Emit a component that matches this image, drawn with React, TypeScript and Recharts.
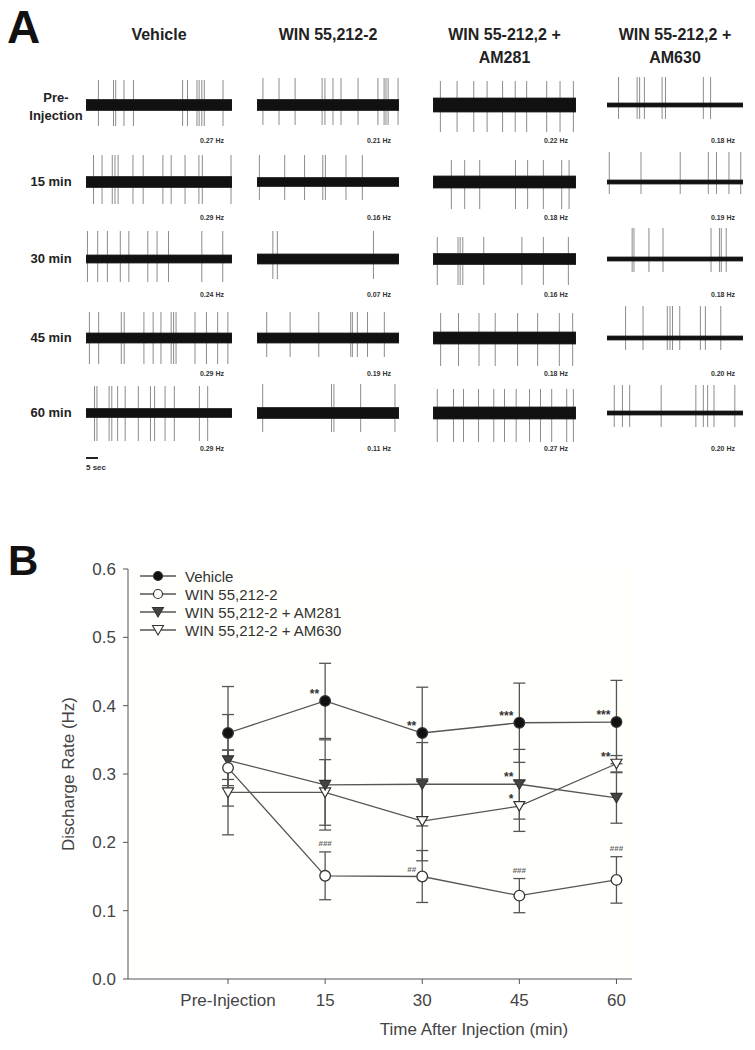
import React from 'react';
import {
  ScatterChart,
  Scatter,
  XAxis,
  YAxis,
  ErrorBar,
  ReferenceArea,
  LineChart,
  Line,
  CartesianGrid,
  Legend,
  ReferenceDot,
  Label,
} from 'recharts';

const FONT = '"Liberation Sans", Arial, Helvetica, sans-serif';

// ---------- Panel A: single-unit recordings ----------
const conditions = [['Vehicle'], ['WIN 55,212-2'], ['WIN 55-212,2 +', 'AM281'], ['WIN 55-212,2 +', 'AM630']];
const timepoints = [['Pre-', 'Injection'], ['15 min'], ['30 min'], ['45 min'], ['60 min']];

// spike times (s) within each 60 s sweep, one list per time point
const vehicleSpikes = [
  [5.1, 11.3, 12.2, 15.6, 19.5, 39.7, 41.7, 45.6, 46.5, 47.6, 48.6, 56.3],
  [3.1, 6.6, 10.8, 11.9, 13.2, 19.3, 23.5, 31.6, 35.0, 40.7, 46.4, 47.8, 59.6],
  [0.6, 4.8, 8.8, 14.1, 17.6, 25.4, 29.2, 33.9, 47.6, 56.2],
  [1.4, 5.2, 14.5, 15.7, 23.8, 27.6, 30.8, 35.0, 36.0, 37.0, 44.8, 49.5, 54.1, 58.3],
  [3.5, 4.5, 9.5, 10.6, 13.0, 16.1, 21.5, 26.5, 28.2, 32.5, 36.3, 46.6, 50.0],
];
const winSpikes = [
  [2.5, 9.3, 16.1, 27.5, 28.7, 32.1, 35.5, 42.7, 51.1, 53.7, 54.5, 55.4, 59.6],
  [1.0, 11.7, 20.1, 27.8, 28.9, 37.6, 44.5],
  [6.7, 8.6, 49.2],
  [4.1, 14.0, 26.1, 39.6, 40.3, 42.4, 46.7, 53.8],
  [2.4, 31.5, 32.5, 43.8, 58.3],
];
const am281Spikes = [
  [3.1, 10.1, 17.1, 22.7, 29.2, 34.5, 39.3, 47.7, 53.3, 58.9],
  [7.7, 13.3, 19.6, 34.6, 39.7, 46.3, 54.0, 57.1],
  [1.8, 10.5, 11.4, 12.5, 21.3, 37.3, 46.3, 56.8],
  [3.2, 10.7, 19.3, 26.1, 35.5, 43.9, 53.0, 58.6],
  [1.8, 8.6, 12.8, 19.1, 25.5, 30.0, 34.9, 40.5, 45.1, 49.8, 56.1, 58.9],
];
const am630Spikes = [
  [5.1, 13.3, 14.4, 16.5, 24.3, 25.8, 42.5, 45.7],
  [1.0, 15.0, 32.3, 44.7, 48.3, 53.8, 59.0],
  [11.1, 11.9, 18.5, 24.7, 45.9, 49.6, 50.4, 52.6],
  [8.2, 15.9, 26.6, 27.8, 28.9, 32.1, 41.2, 43.4, 50.2],
  [3.2, 6.8, 10.0, 23.9, 39.2, 42.5, 44.4, 47.2, 56.4],
];

// spike amplitude [down, up] and baseline noise (peak-to-peak), arbitrary units
const vehicleAmp = [[21, 25], [22, 27], [23, 28], [26, 26], [28, 27]];
const winAmp = [[20, 27], [18, 27], [20, 28], [19, 26], [19, 29]];
const am281Amp = [[27, 24], [27, 22], [26, 22], [28, 25], [29, 24]];
const am630Amp = [[14, 28], [12, 30], [13, 31], [12, 32], [14, 28]];

const vehicleNoise = [11, 11, 8, 10, 9];
const winNoise = [11, 9, 10, 10, 11];
const am281Noise = [14, 12, 11, 12, 12];
const am630Noise = [4, 4, 4, 4, 4];

const vehicleHz = ['0.27', '0.29', '0.24', '0.29', '0.29'];
const winHz = ['0.21', '0.16', '0.07', '0.19', '0.11'];
const am281Hz = ['0.22', '0.18', '0.16', '0.18', '0.27'];
const am630Hz = ['0.18', '0.19', '0.18', '0.20', '0.20'];

const spikeSets = [vehicleSpikes, winSpikes, am281Spikes, am630Spikes];
const ampSets = [vehicleAmp, winAmp, am281Amp, am630Amp];
const noiseSets = [vehicleNoise, winNoise, am281Noise, am630Noise];
const hzSets = [vehicleHz, winHz, am281Hz, am630Hz];

// ---------- Panel B: discharge rate ----------
const timeLabels = ['Pre-Injection', '15', '30', '45', '60'];
const seriesNames = ['Vehicle', 'WIN 55,212-2', 'WIN 55,212-2 + AM281', 'WIN 55,212-2 + AM630'];

const vehicleMean = [0.36, 0.407, 0.36, 0.375, 0.376];
const vehicleSem = [0.068, 0.055, 0.067, 0.058, 0.061];
const winMean = [0.309, 0.151, 0.15, 0.122, 0.145];
const winSem = [0.026, 0.035, 0.038, 0.025, 0.034];
const am281Mean = [0.32, 0.284, 0.285, 0.285, 0.265];
const am281Sem = [0.067, 0.066, 0.061, 0.051, 0.037];
const am630Mean = [0.273, 0.273, 0.231, 0.253, 0.315];
const am630Sem = [0.062, 0.048, 0.058, 0.037, 0.012];

// significance marks (* vs pre-injection, # vs vehicle)
const vehicleSig = ['', '**', '**', '***', '***'];
const winSig = ['', '###', '##', '###', '###'];
const am281Sig = ['', '', '', '**', ''];
const am630Sig = ['', '', '', '*', '**'];

const yTicks = [0, 0.1, 0.2, 0.3, 0.4, 0.5, 0.6];

// layout
const COL_X = [86, 257, 433, 607];
const COL_W = [146, 142, 143, 136];
const ROW_Y = [105, 182, 259, 338, 413];
const TRACE_H = 72;
const SWEEP = 60;

function Trace({ spikes, amp, noise, width }: any) {
  const data = spikes.map((t: number) => ({ t, v: 0, err: amp }));
  const half = TRACE_H / 2;
  return (
    <ScatterChart width={width} height={TRACE_H} margin={{ top: 0, right: 0, bottom: 0, left: 0 }}>
      <XAxis type="number" dataKey="t" domain={[0, SWEEP]} hide />
      <YAxis type="number" dataKey="v" domain={[-half, half]} hide />
      <Scatter data={data} isAnimationActive={false} shape={() => <g />}>
        <ErrorBar dataKey="err" direction="y" width={0} stroke="#8c8c8c" strokeWidth={1} />
      </Scatter>
      <ReferenceArea y1={-noise / 2} y2={noise / 2} fill="#111" fillOpacity={1} stroke="#222" strokeWidth={0.8} zIndex={1000} />
    </ScatterChart>
  );
}

function PanelA() {
  return (
    <div style={{ position: 'absolute', left: 0, top: 0, width: 755, height: 500, fontFamily: FONT }}>
      <div style={{ position: 'absolute', left: 7, top: 2, fontSize: 46, fontWeight: 'bold', color: '#111', lineHeight: '50px' }}>A</div>
      {conditions.map((lines, c) => (
        <div
          key={c}
          style={{
            position: 'absolute',
            left: COL_X[c] + COL_W[c] / 2 - 90,
            width: 180,
            top: 23,
            textAlign: 'center',
            fontSize: 16,
            fontWeight: 'bold',
            color: '#222',
            lineHeight: '23px',
          }}
        >
          {lines.map((l, i) => (
            <div key={i}>{l}</div>
          ))}
        </div>
      ))}
      {timepoints.map((lines, r) => (
        <div
          key={r}
          style={{
            position: 'absolute',
            left: (lines.length > 1 ? 56 : 51) - 40,
            width: 80,
            top: ROW_Y[r] - (lines.length * 18) / 2 + (lines.length > 1 ? 2 : 0),
            textAlign: 'center',
            fontSize: 13,
            fontWeight: 'bold',
            color: '#222',
            lineHeight: '18px',
          }}
        >
          {lines.map((l, i) => (
            <div key={i}>{l}</div>
          ))}
        </div>
      ))}
      {spikeSets.map((rows, c) =>
        rows.map((spikes, r) => (
          <React.Fragment key={`${c}-${r}`}>
            <div style={{ position: 'absolute', left: COL_X[c], top: ROW_Y[r] - TRACE_H / 2 }}>
              <Trace spikes={spikes} amp={ampSets[c][r]} noise={noiseSets[c][r]} width={COL_W[c]} />
            </div>
            <div
              style={{
                position: 'absolute',
                left: COL_X[c] + COL_W[c] - 66,
                width: 58,
                top: ROW_Y[r] + 31,
                textAlign: 'right',
                fontSize: 7,
                fontWeight: 'bold',
                color: '#333',
                lineHeight: '10px',
              }}
            >
              {hzSets[c][r]} Hz
            </div>
          </React.Fragment>
        ))
      )}
      {/* 5 s scale bar */}
      <div style={{ position: 'absolute', left: COL_X[0], top: 457, width: (COL_W[0] * 5) / SWEEP, height: 1.5, background: '#222' }} />
      <div style={{ position: 'absolute', left: COL_X[0], top: 463, fontSize: 8, fontWeight: 'bold', color: '#333' }}>5 sec</div>
    </div>
  );
}

const chartData = timeLabels.map((label, i) => ({
  x: i,
  label,
  vehicle: vehicleMean[i],
  vehicleSem: vehicleSem[i],
  win: winMean[i],
  winSem: winSem[i],
  am281: am281Mean[i],
  am281Sem: am281Sem[i],
  am630: am630Mean[i],
  am630Sem: am630Sem[i],
}));

const LINE = '#555';

const circleDot = (fill: string) => (p: any) => (
  <circle key={`c${p.index}`} cx={p.cx} cy={p.cy} r={5.3} fill={fill} stroke="#333" strokeWidth={1.3} />
);
const triPath = (cx: number, cy: number) => `M${cx - 5.5},${cy - 4.5} L${cx + 5.5},${cy - 4.5} L${cx},${cy + 5} Z`;
const triDot = (fill: string) => (p: any) => (
  <path key={`t${p.index}`} d={triPath(p.cx, p.cy)} fill={fill} stroke="#333" strokeWidth={1.2} />
);

const markers = [
  (cx: number, cy: number) => <circle cx={cx} cy={cy} r={4.5} fill="#111" stroke="#333" strokeWidth={1.2} />,
  (cx: number, cy: number) => <circle cx={cx} cy={cy} r={4.5} fill="#fff" stroke="#333" strokeWidth={1.2} />,
  (cx: number, cy: number) => <path d={triPath(cx, cy)} fill="#444" stroke="#333" strokeWidth={1.1} />,
  (cx: number, cy: number) => <path d={triPath(cx, cy)} fill="#fff" stroke="#333" strokeWidth={1.1} />,
];

function LegendBox() {
  return (
    <div style={{ fontFamily: FONT, fontSize: 15, color: '#333' }}>
      {seriesNames.map((n, i) => (
        <div key={n} style={{ display: 'flex', alignItems: 'center', height: 18 }}>
          <svg width={38} height={14}>
            <line x1={0} y1={7} x2={36} y2={7} stroke={LINE} strokeWidth={1.3} />
            {markers[i](18, 7)}
          </svg>
          <span style={{ marginLeft: 7 }}>{n}</span>
        </div>
      ))}
    </div>
  );
}

const sigLabel = (text: string, place: 'left' | 'cap', hash: boolean) => (p: any) => {
  const vb = p.viewBox || {};
  const x = place === 'left' ? vb.x - 6 : vb.x;
  const y = place === 'left' ? vb.y - (hash ? 5 : 3) : vb.y - 6;
  return (
    <text
      x={x}
      y={y}
      textAnchor={place === 'left' ? 'end' : 'middle'}
      fontSize={hash ? 8 : 12}
      fontWeight="bold"
      fontFamily={FONT}
      fill={hash ? '#666' : '#333'}
    >
      {text}
    </text>
  );
};

function sigDots(sig: string[], mean: number[], sem: number[], hash: boolean, prefix: string) {
  return sig.map((s, i) => {
    if (!s) return null;
    const place = hash && i !== 2 ? 'cap' : 'left';
    const y = place === 'cap' ? mean[i] + sem[i] : mean[i];
    return (
      <ReferenceDot
        key={`${prefix}${i}`}
        x={i}
        y={y}
        r={0}
        fill="none"
        stroke="none"
        label={sigLabel(s, place, hash)}
      />
    );
  });
}

function PanelB() {
  return (
    <div style={{ position: 'absolute', left: 0, top: 540, width: 755, height: 510, fontFamily: FONT }}>
      <div style={{ position: 'absolute', left: 8, top: -2, fontSize: 42, fontWeight: 'bold', color: '#111', lineHeight: '46px' }}>B</div>
      <LineChart width={755} height={510} data={chartData} margin={{ top: 29, right: 123, left: 0, bottom: 0 }}>
        <CartesianGrid horizontal={false} vertical={false} fill="#fffffb" />
        <XAxis
          type="number"
          dataKey="x"
          domain={[-1.03, 4.16]}
          ticks={[0, 1, 2, 3, 4]}
          tickFormatter={(v: number) => timeLabels[v]}
          height={71}
          tickSize={5}
          tickMargin={10}
          stroke={LINE}
          tick={{ fill: '#444', fontSize: 17, fontFamily: FONT }}
        >
          <Label value="Time After Injection (min)" position="center" dx={94} dy={14} fill="#444" fontSize={17} fontFamily={FONT} />
        </XAxis>
        <YAxis
          type="number"
          domain={[0, 0.6]}
          ticks={yTicks}
          tickFormatter={(v: number) => v.toFixed(1)}
          width={128}
          tickSize={5}
          tickMargin={7}
          stroke={LINE}
          tick={{ fill: '#444', fontSize: 17, fontFamily: FONT }}
        >
          <Label value="Discharge Rate (Hz)" angle={-90} position="center" dx={4} fill="#444" fontSize={17} fontFamily={FONT} />
        </YAxis>
        <Legend
          layout="vertical"
          align="center"
          verticalAlign="middle"
          content={() => <LegendBox />}
          wrapperStyle={{ left: 140, top: 27, width: 'auto' }}
        />
        <Line dataKey="am630" stroke={LINE} strokeWidth={1.3} dot={triDot('#fff')} activeDot={false} isAnimationActive={false}>
          <ErrorBar dataKey="am630Sem" direction="y" width={6} stroke={LINE} strokeWidth={1.3} />
        </Line>
        <Line dataKey="am281" stroke={LINE} strokeWidth={1.3} dot={triDot('#444')} activeDot={false} isAnimationActive={false}>
          <ErrorBar dataKey="am281Sem" direction="y" width={6} stroke={LINE} strokeWidth={1.3} />
        </Line>
        <Line dataKey="win" stroke={LINE} strokeWidth={1.3} dot={circleDot('#fff')} activeDot={false} isAnimationActive={false}>
          <ErrorBar dataKey="winSem" direction="y" width={6} stroke={LINE} strokeWidth={1.3} />
        </Line>
        <Line dataKey="vehicle" stroke={LINE} strokeWidth={1.3} dot={circleDot('#111')} activeDot={false} isAnimationActive={false}>
          <ErrorBar dataKey="vehicleSem" direction="y" width={6} stroke={LINE} strokeWidth={1.3} />
        </Line>
        {sigDots(vehicleSig, vehicleMean, vehicleSem, false, 'v')}
        {sigDots(winSig, winMean, winSem, true, 'w')}
        {sigDots(am281Sig, am281Mean, am281Sem, false, 'a')}
        {sigDots(am630Sig, am630Mean, am630Sem, false, 'b')}
      </LineChart>
    </div>
  );
}

export default function App() {
  return (
    <div style={{ position: 'absolute', left: 0, top: 0, width: 755, height: 1050, background: '#fff', overflow: 'hidden' }}>
      <PanelA />
      <PanelB />
    </div>
  );
}
